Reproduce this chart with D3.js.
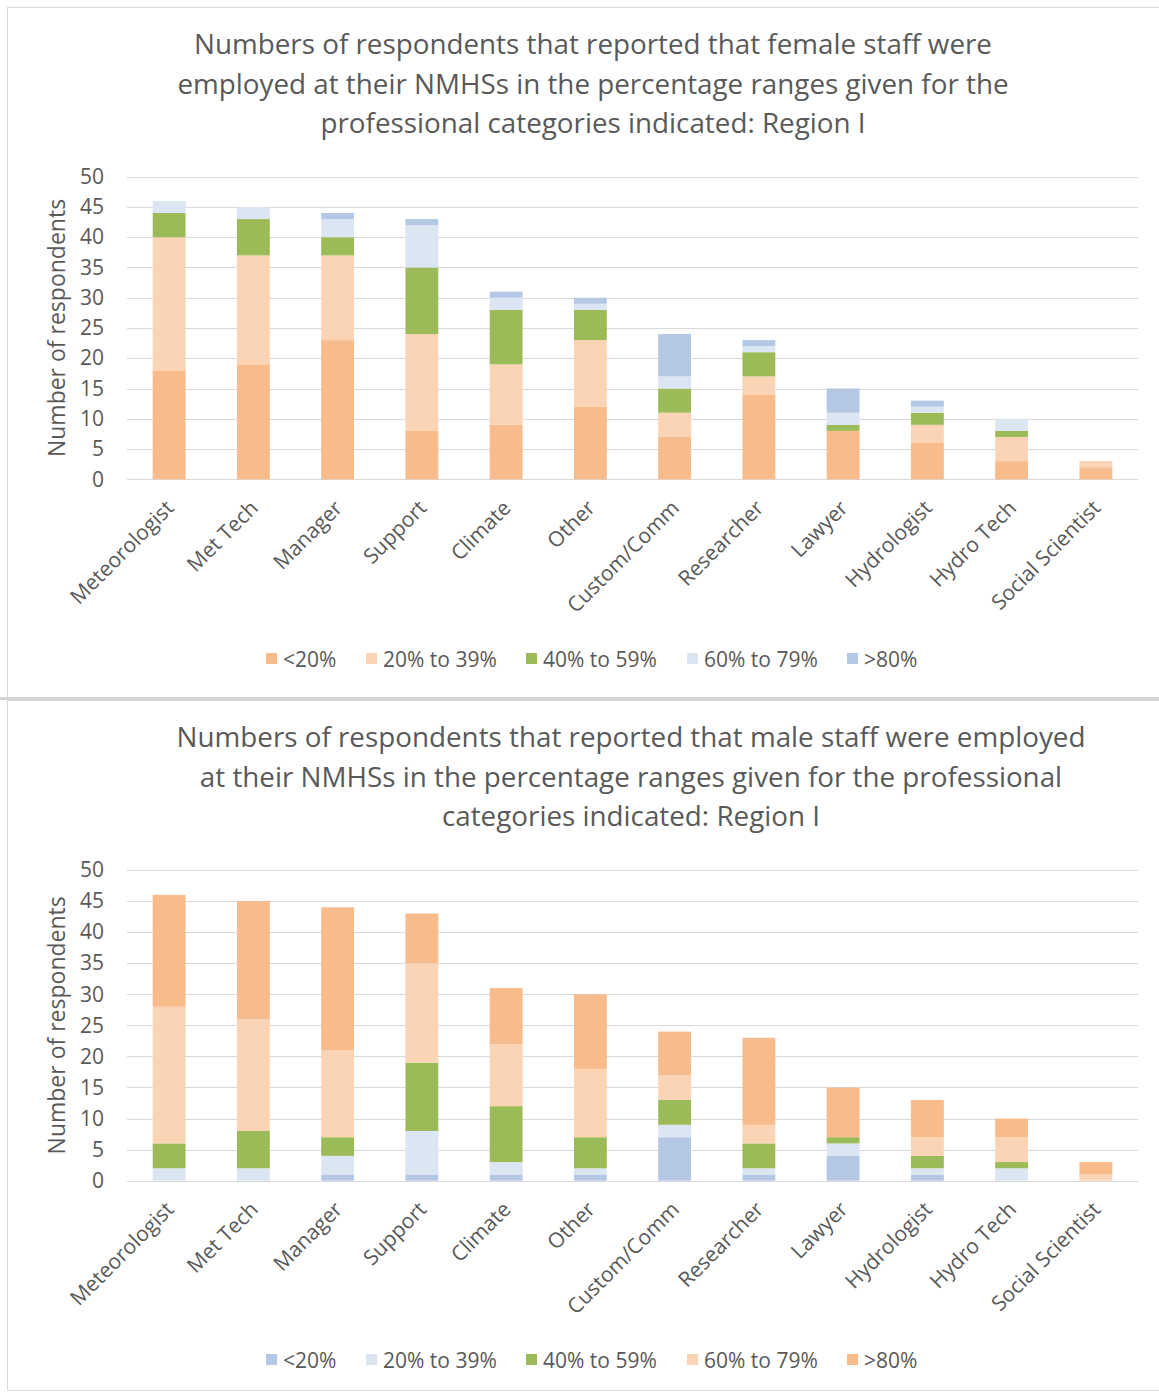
<!DOCTYPE html>
<html>
<head>
<meta charset="utf-8">
<script src="https://cdn.jsdelivr.net/npm/d3@7"></script>
<style>
  html, body { margin: 0; padding: 0; background: #fff; }
  svg { display: block; font-family: "Open Sans", "Noto Sans", sans-serif; }
</style>
</head>
<body>
<svg id="chart" width="1159" height="1394"></svg>
<script>
// Professional categories (x axis)
const categories = ["Meteorologist", "Met Tech", "Manager", "Support", "Climate", "Other",
  "Custom/Comm", "Researcher", "Lawyer", "Hydrologist", "Hydro Tech", "Social Scientist"];

// Percentage ranges (stack order, bottom to top)
const ranges = ["<20%", "20% to 39%", "40% to 59%", "60% to 79%", ">80%"];

// Female staff: respondents per range
const femaleLt20   = [18, 19, 23,  8,  9, 12, 7, 14, 8, 6, 3, 2];
const female20to39 = [22, 18, 14, 16, 10, 11, 4,  3, 0, 3, 4, 1];
const female40to59 = [ 4,  6,  3, 11,  9,  5, 4,  4, 1, 2, 1, 0];
const female60to79 = [ 2,  2,  3,  7,  2,  1, 2,  1, 2, 1, 2, 0];
const femaleGt80   = [ 0,  0,  1,  1,  1,  1, 7,  1, 4, 1, 0, 0];

// Male staff: respondents per range
const maleLt20   = [ 0,  0,  1,  1,  1,  1, 7,  1, 4, 1, 0, 0];
const male20to39 = [ 2,  2,  3,  7,  2,  1, 2,  1, 2, 1, 2, 0];
const male40to59 = [ 4,  6,  3, 11,  9,  5, 4,  4, 1, 2, 1, 0];
const male60to79 = [22, 18, 14, 16, 10, 11, 4,  3, 0, 3, 4, 1];
const maleGt80   = [18, 19, 23,  8,  9, 12, 7, 14, 8, 6, 3, 2];

// Y axis ticks
const yTicks = [0, 5, 10, 15, 20, 25, 30, 35, 40, 45, 50];

const femaleTitle = [
  "Numbers of respondents that reported that female staff were",
  "employed at their NMHSs in the percentage ranges given for the",
  "professional categories indicated: Region I"
];
const maleTitle = [
  "Numbers of respondents that reported that male staff were employed",
  "at their NMHSs in the percentage ranges given for the professional",
  "categories indicated: Region I"
];

const C = {
  orange: "#F7BB8C",
  peach: "#FAD4B4",
  green: "#9BBB59",
  paleBlue: "#DCE5F2",
  blue: "#B4C8E6",
  text: "#595959",
  grid: "#D9D9D9"
};

const svg = d3.select("#chart");

// Panel frames
svg.append("rect").attr("x", 7.5).attr("y", 7.5).attr("width", 1160).attr("height", 690)
  .attr("fill", "#fff").attr("stroke", "#D9D9D9");
svg.append("rect").attr("x", 0).attr("y", 697).attr("width", 1159).attr("height", 3)
  .attr("fill", "#D4D4D4");
svg.append("rect").attr("x", 7.5).attr("y", 700.5).attr("width", 1160).attr("height", 690)
  .attr("fill", "#fff").attr("stroke", "#D9D9D9");

function drawChart(cfg) {
  const g = svg.append("g");
  const x = d3.scaleBand().domain(categories).range([127, 1138])
    .paddingInner(0.61).paddingOuter(0.305);
  const y = d3.scaleLinear().domain([0, 50]).range([cfg.y0, cfg.y50]);

  // Title
  g.append("text")
    .attr("text-anchor", "middle")
    .attr("fill", C.text)
    .attr("font-size", 27.8)
    .selectAll("tspan").data(cfg.title).join("tspan")
    .attr("x", cfg.titleX)
    .attr("y", (d, i) => cfg.titleY + i * 39.5)
    .text(d => d);

  // Gridlines
  g.append("g").selectAll("line").data(yTicks).join("line")
    .attr("x1", 127).attr("x2", 1138)
    .attr("y1", d => Math.round(y(d)) + 0.5).attr("y2", d => Math.round(y(d)) + 0.5)
    .attr("stroke", C.grid).attr("stroke-width", 1.2);

  // Y axis tick labels
  const yAxis = d3.axisLeft(y).tickValues(yTicks).tickSize(0).tickPadding(0);
  const ya = g.append("g").attr("transform", "translate(104,0)").call(yAxis);
  ya.select(".domain").remove();
  ya.selectAll("text").attr("fill", C.text).attr("font-size", 21)
    .attr("font-family", "\"Open Sans\", sans-serif");

  // Y axis title
  g.append("text")
    .attr("transform", `translate(65,${(cfg.y0 + cfg.y50) / 2}) rotate(-90)`)
    .attr("text-anchor", "middle")
    .attr("fill", C.text)
    .attr("font-size", 23)
    .text("Number of respondents");

  // Stacked bars
  const rows = categories.map((c, i) => {
    const r = { category: c };
    ranges.forEach((k, j) => { r[k] = cfg.series[j][i]; });
    return r;
  });
  const stack = d3.stack().keys(ranges)(rows);
  g.append("g").selectAll("g").data(stack).join("g")
    .attr("fill", (d, j) => cfg.colors[j])
    .selectAll("rect").data(d => d).join("rect")
    .attr("x", d => x(d.data.category))
    .attr("width", x.bandwidth())
    .attr("y", d => y(d[1]))
    .attr("height", d => y(d[0]) - y(d[1]));

  // Category labels
  const xAxis = d3.axisBottom(x).tickSize(0).tickPadding(0);
  const xa = g.append("g").attr("transform", `translate(0,${cfg.y0})`).call(xAxis);
  xa.select(".domain").remove();
  xa.selectAll("text")
    .attr("font-size", 21)
    .attr("font-family", "\"Open Sans\", sans-serif")
    .attr("fill", C.text)
    .attr("text-anchor", "end")
    .attr("dy", null)
    .attr("transform", "translate(6,30) rotate(-45)");

  // Legend
  const legendX = [266, 366, 526, 687, 847];
  const lg = g.append("g").selectAll("g").data(ranges).join("g")
    .attr("transform", (d, j) => `translate(${legendX[j]},${cfg.legendY})`);
  lg.append("rect").attr("x", 0).attr("y", -6).attr("width", 11).attr("height", 11)
    .attr("fill", (d, j) => cfg.colors[j]);
  lg.append("text").attr("x", 17).attr("y", 7.5).attr("fill", C.text)
    .attr("font-size", 21).text(d => d);
}

drawChart({
  title: femaleTitle,
  titleX: 593,
  titleY: 54,
  y0: 479.3,
  y50: 176.7,
  legendY: 659,
  series: [femaleLt20, female20to39, female40to59, female60to79, femaleGt80],
  colors: [C.orange, C.peach, C.green, C.paleBlue, C.blue]
});

drawChart({
  title: maleTitle,
  titleX: 631,
  titleY: 747,
  y0: 1180.7,
  y50: 870,
  legendY: 1360,
  series: [maleLt20, male20to39, male40to59, male60to79, maleGt80],
  colors: [C.blue, C.paleBlue, C.green, C.peach, C.orange]
});
</script>
</body>
</html>
